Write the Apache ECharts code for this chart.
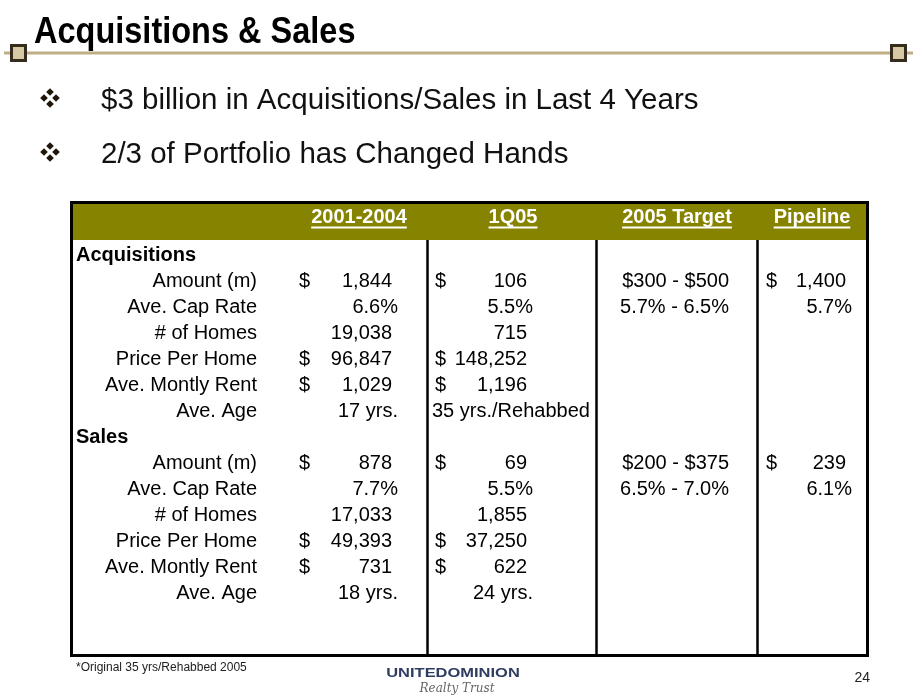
<!DOCTYPE html>
<html>
<head>
<meta charset="utf-8">
<script src="https://cdn.jsdelivr.net/npm/echarts@6/dist/echarts.min.js"></script>
<style>
  html, body { margin: 0; padding: 0; background: #fff; }
  #slide { width: 918px; height: 698px; }
</style>
</head>
<body>
<div id="slide"></div>
<script>
// table content
const headers = ['2001-2004', '1Q05', '2005 Target', 'Pipeline']
const rowLabels = ['Amount (m)', 'Ave. Cap Rate', '# of Homes', 'Price Per Home', 'Ave. Montly Rent', 'Ave. Age']
const dollarRows = [true, false, false, true, true, false]

const acq2001 = ['1,844', '6.6%', '19,038', '96,847', '1,029', '17 yrs.']
const acq1Q05 = ['106', '5.5%', '715', '148,252', '1,196', '35 yrs./Rehabbed']
const acqTarget = ['$300 - $500', '5.7% - 6.5%', '', '', '', '']
const acqPipeline = ['1,400', '5.7%', '', '', '', '']

const sales2001 = ['878', '7.7%', '17,033', '49,393', '731', '18 yrs.']
const sales1Q05 = ['69', '5.5%', '1,855', '37,250', '622', '24 yrs.']
const salesTarget = ['$200 - $375', '6.5% - 7.0%', '', '', '', '']
const salesPipeline = ['239', '6.1%', '', '', '', '']

const sections = [
  { name: 'Acquisitions', cols: [acq2001, acq1Q05, acqTarget, acqPipeline] },
  { name: 'Sales', cols: [sales2001, sales1Q05, salesTarget, salesPipeline] }
]

const bullets = ['$3 billion in Acquisitions/Sales in Last 4 Years', '2/3 of Portfolio has Changed Hands']
const titleText = 'Acquisitions & Sales'
const footnote = '*Original 35 yrs/Rehabbed 2005'
const pageNo = '24'

const FONT = "'Liberation Sans', Arial, sans-serif"
const BODY = 20
const ctx = document.createElement('canvas').getContext('2d')
function textWidth(s, size, weight) {
  ctx.font = (weight || 'normal') + ' ' + size + 'px ' + FONT
  return ctx.measureText(s).width
}

// canvas 'middle' sits ~2px above the visual centre of the caps
function txt(x, y, s, o) {
  o = o || {}
  const el = {
    type: 'text',
    silent: true,
    style: {
      text: s,
      x: x,
      y: y + 2,
      fill: o.fill || '#000',
      fontSize: o.size || BODY,
      fontWeight: o.weight || 'normal',
      fontStyle: o.style || 'normal',
      fontFamily: o.family || FONT,
      align: o.align || 'left',
      verticalAlign: 'middle',
      textAlign: o.align || 'left',
      textVerticalAlign: 'middle'
    }
  }
  if (o.scaleX || o.scaleY) {
    el.scaleX = o.scaleX || 1
    el.scaleY = o.scaleY || 1
    el.originX = x
    el.originY = y + 2
  }
  return el
}

function line(x1, y1, x2, y2, color, w) {
  return { type: 'line', silent: true, shape: { x1: x1, y1: y1, x2: x2, y2: y2 }, style: { stroke: color, lineWidth: w } }
}

function bulletGlyph(cx, cy) {
  const r = 3.8
  const out = []
  const offs = [[0, -6], [-6, 0], [6, 0], [0, 6]]
  offs.forEach(function(d) {
    const x = cx + d[0]
    const y = cy + d[1]
    out.push({
      type: 'polygon',
      silent: true,
      shape: { points: [[x, y - r], [x + r, y], [x, y + r], [x - r, y]] },
      style: { fill: '#1e1608' }
    })
  })
  return out
}

const els = []

// title and rule
els.push(txt(34, 31, titleText, { size: 32.5, weight: 'bold', scaleY: 1.12 }))
els.push(line(4, 53, 913, 53, '#bfae84', 3))
els.push({ type: 'rect', shape: { x: 11.5, y: 45.5, width: 14, height: 15 }, style: { fill: '#d9c8a4', stroke: '#362c1e', lineWidth: 3 } })
els.push({ type: 'rect', shape: { x: 891.5, y: 45.5, width: 14, height: 15 }, style: { fill: '#d9c8a4', stroke: '#362c1e', lineWidth: 3 } })

// bullets
bullets.forEach(function(b, i) {
  const y = 98 + i * 54
  bulletGlyph(50, y).forEach(function(e) { els.push(e) })
  els.push(txt(101, y + 1, b, { size: 29.5, fill: '#111' }))
})

// table frame
const tLeft = 71.5
const tRight = 867.5
const tTop = 202.5
const tBottom = 655.5
const headBottom = 240
els.push({ type: 'rect', shape: { x: tLeft, y: tTop, width: tRight - tLeft, height: headBottom - tTop }, style: { fill: '#868300' } })
const colLines = [427.5, 596.5, 757.5]
colLines.forEach(function(x) { els.push(line(x, headBottom, x, tBottom, '#000', 2.5)) })
els.push({ type: 'rect', shape: { x: tLeft, y: tTop, width: tRight - tLeft, height: tBottom - tTop }, style: { fill: 'none', stroke: '#000', lineWidth: 3 } })

// header labels
const headCenters = [359, 513, 677, 812]
headers.forEach(function(h, i) {
  els.push(txt(headCenters[i], 215, h, { weight: 'bold', fill: '#fff', align: 'center' }))
  const w = textWidth(h, BODY, 'bold')
  els.push(line(headCenters[i] - w / 2, 227.5, headCenters[i] + w / 2, 227.5, '#fff', 2))
})

// body
const labelRight = 257
const dollarX = [299, 435, null, 766]
const valueRight = [392, 527, 729, 846]
const rowTop = 253
const rowH = 26

sections.forEach(function(sec, s) {
  const y0 = rowTop + s * rowH * (rowLabels.length + 1)
  els.push(txt(76, y0, sec.name, { weight: 'bold' }))
  rowLabels.forEach(function(lab, r) {
    const y = y0 + (r + 1) * rowH
    els.push(txt(labelRight, y, lab, { align: 'right' }))
    sec.cols.forEach(function(col, c) {
      const v = col[r]
      if (!v) return
      if (v.indexOf('/') > 0) {
        els.push(txt(dollarX[c] - 3, y, v))
        return
      }
      if (dollarX[c] !== null && dollarRows[r]) {
        els.push(txt(dollarX[c], y, '$'))
      }
      let xr = valueRight[c]
      if (c !== 2 && /(%|yrs\.)$/.test(v)) xr += 6
      els.push(txt(xr, y, v, { align: 'right' }))
    })
  })
})

// footer
els.push(txt(76, 666, footnote, { size: 12, fill: '#222' }))
els.push(txt(870, 676, pageNo, { size: 14, fill: '#222', align: 'right' }))
els.push(txt(453, 671, 'UNITEDOMINION', { size: 13.5, weight: 'bold', fill: '#2e3c62', align: 'center', scaleX: 1.22 }))
els.push(txt(457, 687, 'Realty Trust', { size: 12, style: 'italic', fill: '#666', align: 'center', family: "'DejaVu Serif', 'Liberation Serif', serif" }))

const chart = echarts.init(document.getElementById('slide'), null, { renderer: 'canvas' })
chart.setOption({
  backgroundColor: '#fff',
  animation: false,
  graphic: { elements: els }
})
</script>
</body>
</html>
